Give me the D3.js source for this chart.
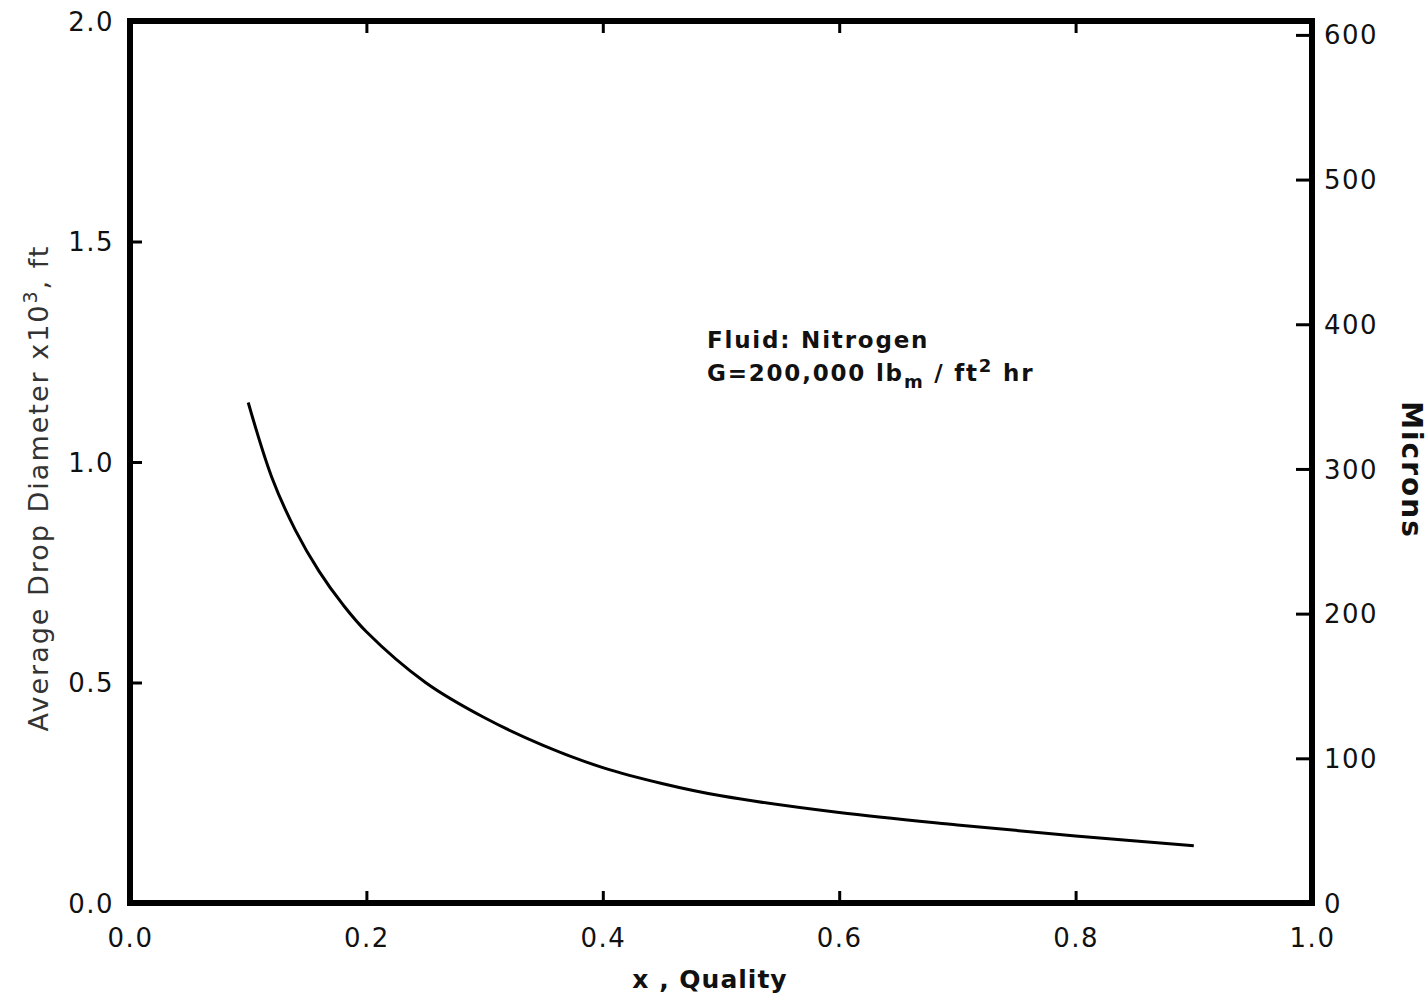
<!DOCTYPE html>
<html><head><meta charset="utf-8">
<script src="https://cdn.jsdelivr.net/npm/d3@7"></script>
<style>
body{margin:0;background:#fff;}
text{font-family:"DejaVu Sans",sans-serif;fill:#111;}
</style></head>
<body>
<svg id="c" width="1428" height="1003"></svg>
<script>
const quality  = [0.10, 0.12, 0.14, 0.16, 0.18, 0.20, 0.25, 0.30, 0.35, 0.40, 0.45, 0.50, 0.60, 0.70, 0.80, 0.90];
const diameter = [1.135, 0.965, 0.845, 0.752, 0.677, 0.615, 0.50, 0.42, 0.357, 0.307, 0.271, 0.243, 0.205, 0.177, 0.152, 0.13];
const xTicks = [0.0, 0.2, 0.4, 0.6, 0.8, 1.0];
const yTicks = [0.0, 0.5, 1.0, 1.5, 2.0];
const micronTicks = [0, 100, 200, 300, 400, 500, 600];
const FT_TO_MICRON = 304.8; // 1e-3 ft in microns

const svg = d3.select("#c");
const L = 130, R = 1312, T = 21, B = 903;
const x = d3.scaleLinear().domain([0, 1]).range([L, R]);
const y = d3.scaleLinear().domain([0, 2]).range([B, T]);
const yR = d3.scaleLinear().domain([0, 2 * FT_TO_MICRON]).range([B, T]);

const fmt = d => d.toFixed(1);

const gB = svg.append("g").attr("transform", `translate(0,${B})`)
  .call(d3.axisBottom(x).tickValues(xTicks).tickFormat(fmt).tickSize(-12).tickPadding(26));
const gT = svg.append("g").attr("transform", `translate(0,${T})`)
  .call(d3.axisTop(x).tickValues(xTicks.slice(1, -1)).tickFormat("").tickSize(-12));
const gL = svg.append("g").attr("transform", `translate(${L},0)`)
  .call(d3.axisLeft(y).tickValues(yTicks).tickFormat(fmt).tickSize(-12).tickPadding(16));
const gR = svg.append("g").attr("transform", `translate(${R},0)`)
  .call(d3.axisRight(yR).tickValues(micronTicks).tickFormat(d3.format("d")).tickSize(-16).tickPadding(12));

[gB, gT, gL, gR].forEach(g => {
  g.select(".domain").remove();
  g.selectAll(".tick line").attr("stroke", "#000").attr("stroke-width", 3);
  g.selectAll("text").style("font-size", "26px").style("fill", "#111").attr("letter-spacing", "1.5px");
});
gL.selectAll(".tick text").attr("dy", "0.35em");
gR.selectAll(".tick text").attr("dy", "0.35em");
gR.selectAll(".tick").filter(d => d === 0).select("line").remove();
gL.selectAll(".tick").filter(d => d === 0 || d === 2).select("line").remove();

svg.append("rect").attr("x", L).attr("y", T).attr("width", R - L).attr("height", B - T)
  .attr("fill", "none").attr("stroke", "#000").attr("stroke-width", 6);

const pts = quality.map((q, i) => [q, diameter[i]]);
svg.append("path").datum(pts)
  .attr("fill", "none").attr("stroke", "#000").attr("stroke-width", 3)
  .attr("d", d3.line().x(d => x(d[0])).y(d => y(d[1])).curve(d3.curveCatmullRom.alpha(0.5)));

svg.append("text").attr("x", 710).attr("y", 988).attr("text-anchor", "middle")
  .style("font-size", "25px").style("font-weight", "bold").attr("letter-spacing", "1px")
  .text("x ,  Quality");

const lt = svg.append("text").attr("transform", "translate(48,488) rotate(-90)")
  .attr("text-anchor", "middle").style("font-size", "27px").style("fill", "#333").attr("letter-spacing", "2px");
lt.append("tspan").text("Average  Drop  Diameter  x10");
lt.append("tspan").attr("dy", -11).style("font-size", "19px").text("3");
lt.append("tspan").attr("dy", 11).text(",  ft");

svg.append("text").attr("transform", "translate(1402,470) rotate(90)")
  .attr("text-anchor", "middle").style("font-size", "28px").style("font-weight", "bold")
  .attr("letter-spacing", "2px").text("Microns");

svg.append("text").attr("x", 707).attr("y", 348).style("font-size", "23px").style("font-weight", "bold")
  .attr("letter-spacing", "1.8px").text("Fluid:  Nitrogen");
const an = svg.append("text").attr("x", 707).attr("y", 381).style("font-size", "23px").style("font-weight", "bold")
  .attr("letter-spacing", "1.8px");
an.append("tspan").text("G=200,000  lb");
an.append("tspan").attr("dy", 7).style("font-size", "18px").text("m");
an.append("tspan").attr("dy", -7).text(" / ft");
an.append("tspan").attr("dy", -9).style("font-size", "18px").text("2");
an.append("tspan").attr("dy", 9).text(" hr");
</script>
</body></html>
